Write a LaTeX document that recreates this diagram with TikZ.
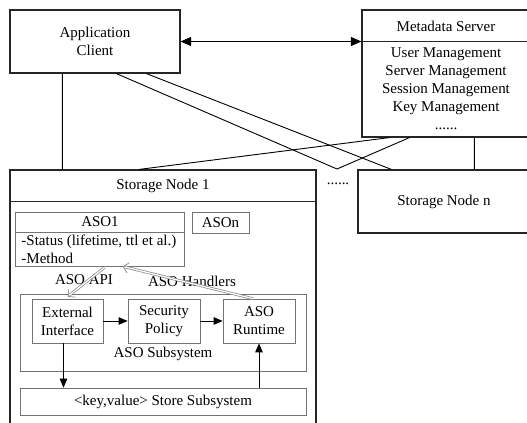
\documentclass[tikz,border=0pt]{standalone}
\usepackage{fontspec}
\setmainfont{Liberation Serif}
\usetikzlibrary{arrows.meta,calc}

\tikzset{
	outer/.style={draw=black!85, line width=0.8pt, inner sep=0pt},
	inner/.style={draw=black!55, line width=0.5pt, inner sep=0pt},
	blk/.style={-{Triangle[length=6pt,width=5pt]}, line width=0.5pt},
	hollowtip/.style={draw=black!45, line width=0.5pt, -{Straight Barb[length=3.5pt,width=7pt]}},
	hollowout/.style={draw=black!45, line width=1.8pt, shorten >=1.6pt},
	hollowin/.style={draw=white, line width=0.8pt, shorten >=1.4pt}
}

\begin{document}
			\begin{tikzpicture}[x=0.667pt, y=-0.667pt, font=\fontsize{10}{12}\selectfont]
					\useasboundingbox (0,0) rectangle (527,423);
					\clip (0,0) rectangle (527,423);
					% CLIENT AND METADATA SERVER
					\node (app) at (95,41.5) [outer, minimum width=113.4pt, minimum height=42pt, align=center] {Application\\Client};
					\node (meta) at (446,73.5) [outer, minimum width=112pt, minimum height=84.7pt] {};
					\node (metatitle) at (446,26) {Metadata Server};
					\draw[line width=0.8pt, black!85] ($(meta.north west)+(0,32)$) -- ($(meta.north east)+(0,32)$);
					\node (metalist) at (446,89) [align=center] {User Management\\Server Management\\Session Management\\Key Management\\......};
					\draw[{Triangle[length=7pt,width=6pt]}-{Triangle[length=7pt,width=6pt]}, line width=0.6pt] (app.east) -- (app.east -| meta.west);
					% STORAGE NODES
					\node (sn1) at (163,310) [outer, minimum width=204.1pt, minimum height=186.8pt] {};
					\node (sn1title) at (163,186) {Storage Node 1};
					\draw[line width=0.8pt, black!85] ($(sn1.north west)+(0,32)$) -- ($(sn1.north east)+(0,32)$);
					\node (snn) at (444,201.5) [outer, minimum width=114.7pt, minimum height=42pt] {Storage Node n};
					\node (dots) at (338,184) {......};
					\coordinate (vjoin) at (337,169);
					% LINKS
					\draw[line width=0.6pt] ($(app.south west)+(53,0)$) -- ($(sn1.north west)+(53,0)$);
					\draw[line width=0.6pt] ($(app.south west)+(107,0)$) -- (vjoin) -- ($(meta.south west)+(48,0)$);
					\draw[line width=0.6pt] ($(app.south west)+(137,0)$) -- ($(snn.north west)+(34,0)$);
					\draw[line width=0.6pt] ($(meta.south west)+(28,0)$) -- ($(sn1.north west)+(130,0)$);
					\draw[line width=0.6pt] ($(meta.south west)+(113,0)$) -- ($(snn.north west)+(117,0)$);
					% ASO OBJECTS
					\node (aso1) at (99.5,239) [inner, minimum width=112.7pt, minimum height=36pt] {};
					\node (aso1title) at (100,222) {ASO1};
					\draw[line width=0.5pt, black!55] ($(aso1.north west)+(0,21)$) -- ($(aso1.north east)+(0,21)$);
					\node (aso1body) at ($(aso1.west)+(5,10)$) [anchor=west, align=left, inner sep=1pt] {-Status (lifetime, ttl et al.)\\-Method};
					\node (ason) at (220.5,222.5) [inner, minimum width=38pt, minimum height=14pt] {ASOn};
					% ASO SUBSYSTEM
					\node (asosub) at (163,332.5) [inner, minimum width=190.8pt, minimum height=51.4pt] {};
					\node (asosublabel) at (163,354) {ASO Subsystem};
					\node (ext) at (67.5,321) [inner, minimum width=47.4pt, minimum height=29.3pt, align=center] {External\\Interface};
					\node (sec) at (164,321) [inner, minimum width=48pt, minimum height=29.3pt, align=center] {Security\\Policy};
					\node (run) at (259,321) [inner, minimum width=48pt, minimum height=29.3pt, align=center] {ASO\\Runtime};
					\node (store) at (163,401.5) [inner, minimum width=190.8pt, minimum height=18pt] {<key,value> Store Subsystem};
					\node (apilabel) at (84,280) {ASO API};
					\node (handlerlabel) at (192,281) {ASO Handlers};
					% ARROWS
					\draw[blk] (ext) -- (sec);
					\draw[blk] (sec) -- (run);
					\coordinate (extdown) at ($(ext.south)+(-4,0)$);
					\draw[blk] (extdown) -- (extdown |- store.north);
					\draw[blk] (store.north -| run.south) -- (run.south);
					% API AND HANDLERS
					\coordinate (apistart) at ($(aso1.south west)+(90,1)$);
					\coordinate (apiend) at ($(ext.north)+(0,-2)$);
					\coordinate (hdlstart) at ($(run.north)+(-6,0)$);
					\coordinate (hdlend) at ($(aso1.south west)+(108,0)$);
					\foreach \s/\e in {hdlstart/hdlend, apistart/apiend} {
						\draw[hollowtip] ($(\s)!0.75!(\e)$) -- (\e);
						\draw[hollowout] (\s) -- (\e);
						\draw[hollowin] (\s) -- (\e);
					}
			\end{tikzpicture}
\end{document}
